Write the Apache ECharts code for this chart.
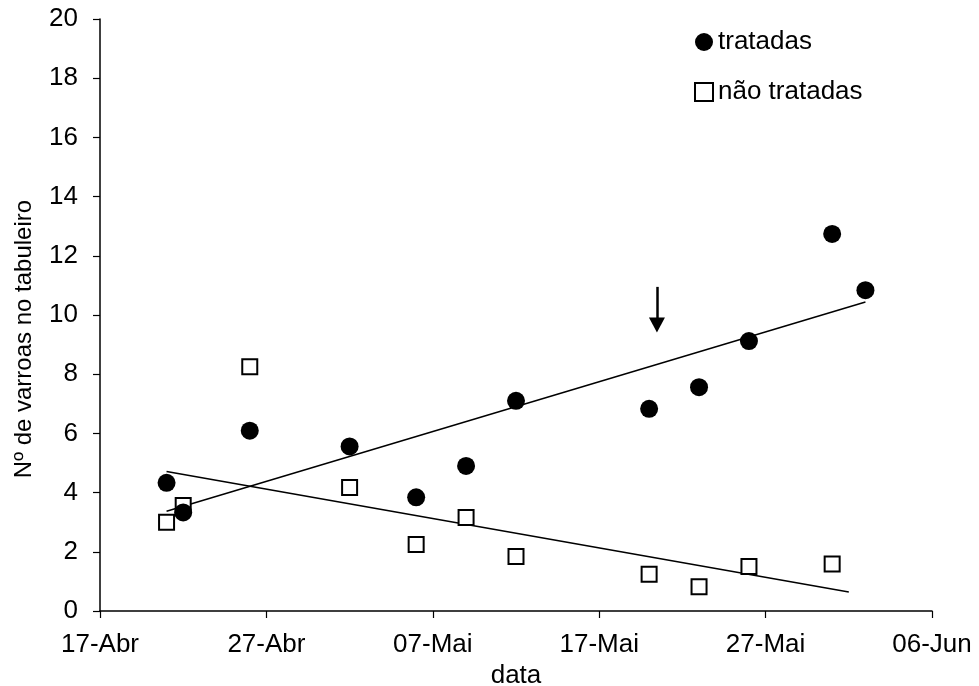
<!DOCTYPE html>
<html>
<head>
<meta charset="utf-8">
<script src="https://cdn.jsdelivr.net/npm/echarts@6/dist/echarts.min.js"></script>
<style>
  html, body { margin: 0; padding: 0; background: #fff; }
  #chart { width: 979px; height: 686px; }
</style>
</head>
<body>
<div id="chart"></div>
<script>
"use strict";

var tickLabels = ["17-Abr", "27-Abr", "07-Mai", "17-Mai", "27-Mai", "06-Jun"];
var datesTratadas = ["2009-04-21", "2009-04-22", "2009-04-26", "2009-05-02", "2009-05-06", "2009-05-09",
  "2009-05-12", "2009-05-20", "2009-05-23", "2009-05-26", "2009-05-31", "2009-06-02"];
var valuesTratadas = [4.33, 3.33, 6.09, 5.56, 3.84, 4.90, 7.10, 6.83, 7.56, 9.12, 12.74, 10.84];
var datesNaoTratadas = ["2009-04-21", "2009-04-22", "2009-04-26", "2009-05-02", "2009-05-06", "2009-05-09",
  "2009-05-12", "2009-05-20", "2009-05-23", "2009-05-26", "2009-05-31"];
var valuesNaoTratadas = [3.00, 3.56, 8.25, 4.17, 2.25, 3.16, 1.84, 1.24, 0.82, 1.50, 1.59];
// trend line ends
var trendTratadas = [["2009-04-21", 3.37], ["2009-06-02", 10.44]];
var trendNaoTratadas = [["2009-04-21", 4.71], ["2009-06-01", 0.64]];
// arrow marking the treatment
var arrowFrom = ["2009-05-20", 10.95];
var arrowTo = ["2009-05-20", 9.66];
var arrowShift = 0.47;

var startDay = Date.UTC(2009, 3, 17);
function dayOf(s) {
  var p = s.split("-");
  return (Date.UTC(+p[0], +p[1] - 1, +p[2]) - startDay) / 86400000;
}
function pairs(dates, values) {
  return dates.map(function (d, i) { return [dayOf(d), values[i]]; });
}
function trend(pts) {
  return pts.map(function (p) { return [dayOf(p[0]), p[1]]; });
}

var font = "Liberation Sans, Arial, sans-serif";
var chart = echarts.init(document.getElementById("chart"));
chart.setOption({
  animation: false,
  backgroundColor: "#fff",
  grid: { left: 100, right: 47, top: 19, bottom: 75, containLabel: false, outerBoundsMode: "none" },
  legend: {
    data: ["tratadas", "não tratadas"],
    orient: "vertical", left: 689, top: 24,
    itemWidth: 18, itemHeight: 18, itemGap: 24,
    textStyle: { fontSize: 26, color: "#000", fontFamily: font }
  },
  xAxis: {
    type: "value", min: 0, max: 50, interval: 10,
    name: "data", nameLocation: "middle", nameGap: 49,
    nameTextStyle: { fontSize: 26, color: "#000", fontFamily: font },
    axisLine: { lineStyle: { color: "#000", width: 1.5 } },
    axisTick: { show: true, length: 7, lineStyle: { color: "#000", width: 1.2 } },
    axisLabel: { color: "#000", fontSize: 26, fontFamily: font, margin: 21,
      formatter: function (v) { return tickLabels[v / 10]; } },
    splitLine: { show: false }
  },
  yAxis: {
    type: "value", min: 0, max: 20, interval: 2,
    name: "Nº de varroas no tabuleiro", nameLocation: "middle", nameGap: 64,
    nameTextStyle: { fontSize: 24, color: "#000", fontFamily: font, padding: [0, 48, 0, 0] },
    axisLine: { show: true, lineStyle: { color: "#000", width: 1.5 } },
    axisTick: { show: true, length: 7, lineStyle: { color: "#000", width: 1.2 } },
    axisLabel: { color: "#000", fontSize: 26, fontFamily: font, margin: 22 },
    splitLine: { show: false }
  },
  series: [
    {
      name: "trendTratadas", type: "line", data: trend(trendTratadas), symbol: "none",
      lineStyle: { color: "#000", width: 1.5 }, z: 1, silent: true
    },
    {
      name: "trendNaoTratadas", type: "line", data: trend(trendNaoTratadas), symbol: "none",
      lineStyle: { color: "#000", width: 1.5 }, z: 1, silent: true
    },
    {
      name: "tratadas", type: "scatter", data: pairs(datesTratadas, valuesTratadas),
      symbol: "circle", symbolSize: 18, itemStyle: { color: "#000", opacity: 1 }, z: 3,
      markLine: {
        silent: true, symbol: ["none", "triangle"], symbolSize: [16, 15],
        label: { show: false },
        lineStyle: { color: "#000", width: 2.5, type: "solid", opacity: 1 },
        data: [[
          { coord: [dayOf(arrowFrom[0]) + arrowShift, arrowFrom[1]] },
          { coord: [dayOf(arrowTo[0]) + arrowShift, arrowTo[1]] }
        ]]
      }
    },
    {
      name: "não tratadas", type: "scatter", data: pairs(datesNaoTratadas, valuesNaoTratadas),
      symbol: "rect", symbolSize: 15,
      itemStyle: { color: "#fff", borderColor: "#000", borderWidth: 2, opacity: 1 }, z: 2
    }
  ]
});
</script>
</body>
</html>
